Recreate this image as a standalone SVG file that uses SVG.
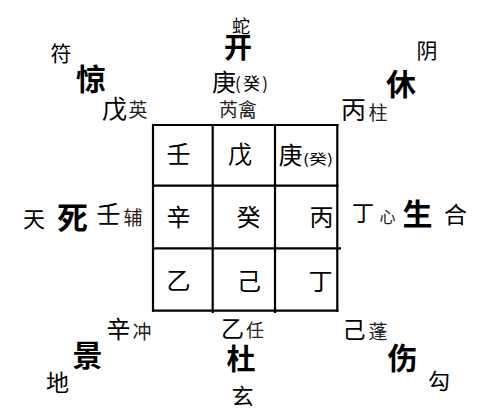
<svg xmlns="http://www.w3.org/2000/svg" width="478" height="420" viewBox="0 0 478 420">
<style>
text{font-family:"Noto Sans CJK SC","Noto Sans CJK JP",sans-serif;fill:#000;text-anchor:middle}
.g{font-weight:bold;font-size:30px}
.s{font-size:24px}
.m{font-size:19px;fill:#222}
.d{font-size:21px}
.c{font-size:24px}
line{stroke:#000;stroke-width:2.2}
</style>
<rect width="478" height="420" fill="#fff"/>
<g id="grid">
<line x1="152" y1="125" x2="338.4" y2="125"/>
<line x1="152" y1="185.7" x2="338.4" y2="185.7"/>
<line x1="152" y1="248.3" x2="341" y2="248.3"/>
<line x1="152" y1="310.7" x2="338.4" y2="310.7"/>
<line x1="153" y1="124" x2="153" y2="311.8"/>
<line x1="212.7" y1="124" x2="212.7" y2="313"/>
<line x1="275" y1="124" x2="275" y2="313"/>
<line x1="337.3" y1="124" x2="337.3" y2="311.8"/>
</g>
<g id="cells">
<text class="c" x="178.5" y="163">壬</text>
<text class="c" x="240" y="163">戊</text>
<text class="c" x="290.5" y="164">庚</text>
<text x="303" y="164" style="font-size:14px;text-anchor:start" textLength="30" lengthAdjust="spacingAndGlyphs">(癸)</text>
<text class="c" x="178.5" y="226">辛</text>
<text class="c" x="248.5" y="226">癸</text>
<text class="c" x="321.5" y="226">丙</text>
<text class="c" x="178.5" y="289">乙</text>
<text class="c" x="249" y="290">己</text>
<text class="c" x="320.5" y="290">丁</text>
</g>
<g id="palace-n">
<text x="241" y="33" style="font-size:18px">蛇</text>
<text class="g" x="238" y="58" style="font-size:28px">开</text>
<text class="s" x="224" y="90.5">庚</text>
<text x="235" y="90" style="font-size:17px;text-anchor:start" textLength="33" lengthAdjust="spacing">(癸)</text>
<text class="m" x="238" y="117">芮禽</text>
</g>
<g id="palace-nw">
<text class="d" x="61" y="60.5">符</text>
<text class="g" x="91" y="90">惊</text>
<text class="s" x="114.5" y="117.5" style="font-size:25px">戊</text>
<text class="m" x="138" y="117">英</text>
</g>
<g id="palace-ne">
<text class="d" x="427" y="58">阴</text>
<text class="g" x="401" y="95">休</text>
<text class="s" x="353.5" y="118.5" style="font-size:25px">丙</text>
<text class="m" x="378" y="120">柱</text>
</g>
<g id="palace-w">
<text class="d" x="34" y="227" style="font-size:22px">天</text>
<text class="g" x="72.5" y="229" style="font-size:31px">死</text>
<text class="s" x="108.5" y="222.5">壬</text>
<text class="m" x="133" y="224.5" style="fill:#301818">辅</text>
</g>
<g id="palace-e">
<text class="s" x="363" y="221" style="font-size:22px">丁</text>
<text class="m" x="387.5" y="222.5" style="font-size:16px">心</text>
<text class="g" x="417.5" y="225">生</text>
<text class="d" x="455.5" y="222.5" style="font-size:23px">合</text>
</g>
<g id="palace-sw">
<text class="s" x="118.5" y="337.5">辛</text>
<text class="m" x="142" y="339">冲</text>
<text class="g" x="87.5" y="366">景</text>
<text class="d" x="57.5" y="391" style="font-size:23px">地</text>
</g>
<g id="palace-s">
<text class="s" x="232.5" y="337" style="font-size:23px">乙</text>
<text class="m" x="255" y="337" style="font-size:18px">任</text>
<text class="g" x="241" y="369.5" style="font-size:29px">杜</text>
<text class="d" x="242.5" y="404" style="font-size:22px">玄</text>
</g>
<g id="palace-se">
<text class="s" x="354" y="338" style="font-size:23px">己</text>
<text class="m" x="378" y="339">蓬</text>
<text class="g" x="402.5" y="369">伤</text>
<text class="d" x="439" y="389" style="font-size:22px">勾</text>
</g>
</svg>
